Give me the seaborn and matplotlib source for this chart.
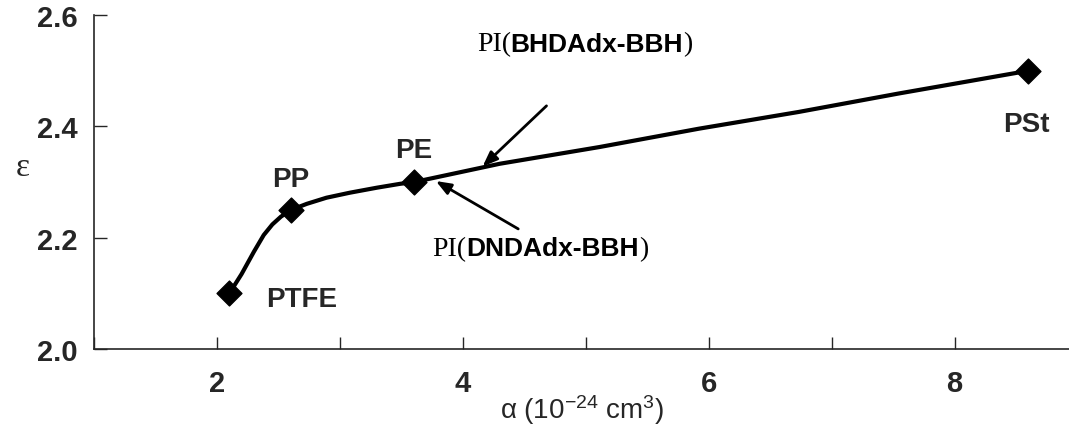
import numpy as np
import pandas as pd
import matplotlib
matplotlib.use("Agg")
import matplotlib.pyplot as plt
import seaborn as sns
from matplotlib.offsetbox import TextArea, HPacker, AnnotationBbox
from matplotlib.ticker import MultipleLocator

# polymer points (alpha in 1e-24 cm3, dielectric constant)
polymers = ["PTFE", "PP", "PE", "PSt"]
alpha_pts = [2.1, 2.6, 3.6, 8.6]
eps_pts = [2.10, 2.25, 2.30, 2.50]

# PI curve
curve_alpha = [2.1, 2.2, 2.3, 2.38, 2.45, 2.52, 2.6, 2.73, 2.89, 3.08, 3.3, 3.49, 3.6,
               4.3, 5.11, 5.92, 6.73, 7.54, 8.6]
curve_eps = [2.10, 2.135, 2.175, 2.205, 2.224, 2.238, 2.25, 2.261, 2.272, 2.281, 2.29, 2.297, 2.30,
             2.333, 2.363, 2.396, 2.426, 2.459, 2.50]

sns.set_style("ticks")
plt.rcParams['font.family'] = ['Liberation Sans', 'DejaVu Sans']
plt.rcParams['mathtext.default'] = 'regular'

fig = plt.figure(figsize=(10.69, 4.35), dpi=100)
ax = fig.add_axes([0.088, 0.195, 0.912, 0.768])

curve_df = pd.DataFrame({"alpha": curve_alpha, "eps": curve_eps})
pts_df = pd.DataFrame({"alpha": alpha_pts, "eps": eps_pts, "name": polymers})

sns.lineplot(data=curve_df, x="alpha", y="eps", color="black", lw=3, sort=False, ax=ax)
sns.scatterplot(data=pts_df, x="alpha", y="eps", marker="D", s=160, color="black",
                edgecolor="black", zorder=5, ax=ax)

ax.set_xlim(1.0, 8.93)
ax.set_ylim(2.0, 2.6)
ax.xaxis.set_major_locator(MultipleLocator(2))
ax.xaxis.set_minor_locator(MultipleLocator(1))
ax.yaxis.set_major_locator(MultipleLocator(0.2))
ax.tick_params(axis="both", which="both", direction="in", length=9, width=1)
ax.tick_params(axis="x", which="major", labelsize=21, pad=14)
ax.tick_params(axis="y", which="major", labelsize=21, pad=12)
for lab in ax.get_xticklabels() + ax.get_yticklabels():
    lab.set_fontweight("bold")
for s in ["top", "right"]:
    ax.spines[s].set_visible(False)
for s in ["left", "bottom"]:
    ax.spines[s].set_linewidth(1.2)

ax.set_xlabel("α (10$^{-24}$ cm$^{3}$)", fontsize=20, labelpad=-3)
ax.set_ylabel("ε", fontsize=24, family="Liberation Serif", rotation=0)
ax.yaxis.set_label_coords(-0.073, 0.5)

# point labels
label_pos = {"PTFE": (2.4, 2.09, "left"), "PP": (2.6, 2.305, "center"),
             "PE": (3.6, 2.357, "center"), "PSt": (8.58, 2.405, "center")}
for name in polymers:
    x, y, ha = label_pos[name]
    ax.text(x, y, name, fontsize=20, fontweight="bold", ha=ha, va="center")


def mixed_label(core, xy):
    serif = dict(family="Liberation Serif", size=20, color="black")
    sans = dict(family="Liberation Sans", size=19, weight="bold", color="black")
    box = HPacker(children=[TextArea("PI(", textprops=serif),
                            TextArea(core, textprops=sans),
                            TextArea(")", textprops=serif)],
                  align="baseline", pad=0, sep=0)
    ab = AnnotationBbox(box, xy, xycoords="data", frameon=False, box_alignment=(0.5, 0.5))
    ax.add_artist(ab)


mixed_label("BHDAdx-BBH", (4.99, 2.548))
mixed_label("DNDAdx-BBH", (4.63, 2.18))

arrow = dict(arrowstyle="-|>,head_length=0.9,head_width=0.35", color="black", lw=2,
             shrinkA=0, shrinkB=0)
ax.annotate("", xy=(4.16, 2.328), xytext=(4.68, 2.437), arrowprops=arrow)
ax.annotate("", xy=(3.78, 2.302), xytext=(4.45, 2.216), arrowprops=arrow)

fig.savefig("out.png", dpi=100)
